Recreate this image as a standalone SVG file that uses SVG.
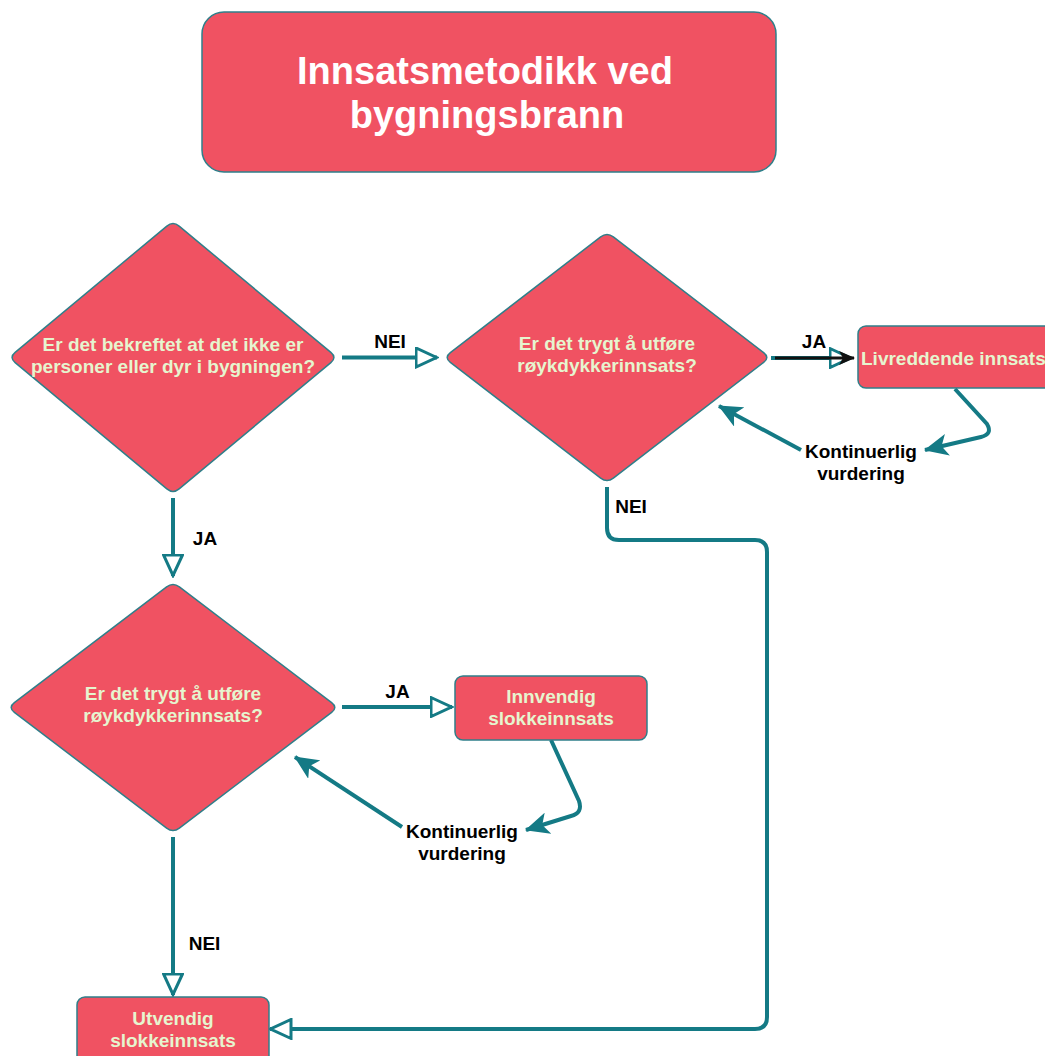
<svg xmlns="http://www.w3.org/2000/svg" width="1045" height="1056" viewBox="0 0 1045 1056">
<style>
.node{fill:#f05262;stroke:#2f7f8a;stroke-width:1.5}
.ntext{font-family:"Liberation Sans",Arial,sans-serif;font-weight:bold;font-size:19px;fill:#e6f5cf;text-anchor:middle}
.title{font-family:"Liberation Sans",Arial,sans-serif;font-weight:bold;font-size:38px;fill:#ffffff;text-anchor:middle}
.lbl{font-family:"Liberation Sans",Arial,sans-serif;font-weight:bold;font-size:19px;fill:#000000;text-anchor:middle}
.conn{fill:none;stroke:#147a85;stroke-width:4}
</style>
<defs>
<marker id="open" markerUnits="userSpaceOnUse" viewBox="0 0 24 22" refX="22.5" refY="11" markerWidth="24" markerHeight="22" orient="auto">
<path d="M1.5,1.5 L22,11 L1.5,20.5 Z" fill="#ffffff" stroke="#147a85" stroke-width="3" stroke-linejoin="miter"/>
</marker>
<marker id="classic" markerUnits="userSpaceOnUse" viewBox="0 0 24 22" refX="23" refY="11" markerWidth="24" markerHeight="22" orient="auto">
<path d="M0,0 L24,11 L0,22 L6,11 Z" fill="#147a85"/>
</marker>
<marker id="black" markerUnits="userSpaceOnUse" viewBox="0 0 16 14" refX="15" refY="7" markerWidth="16" markerHeight="14" orient="auto">
<path d="M0,0 L16,7 L0,14 L4,7 Z" fill="#111111"/>
</marker>
</defs>

<g id="connectors">
<path class="conn" d="M342,357.5 L437,357.5" marker-end="url(#open)"/>
<path class="conn" d="M771,358 L851,358" marker-end="url(#open)"/>
<path d="M775,358 L854,358" fill="none" stroke="#111111" stroke-width="3" marker-end="url(#black)"/>
<path class="conn" d="M955,389 L987,424 Q993,434 981,437 L925,450" marker-end="url(#classic)"/>
<path class="conn" d="M801,450 L719,406" marker-end="url(#classic)"/>
<path class="conn" d="M607,487 L607,528 Q607,540 619,540 L755,540 Q767,540 767,552 L767,1017 Q767,1029 755,1029 L270,1029" marker-end="url(#open)"/>
<path class="conn" d="M173,498 L173,576" marker-end="url(#open)"/>
<path class="conn" d="M342,707 L452,707" marker-end="url(#open)"/>
<path class="conn" d="M551,740 L579,801 Q583,813 571,816 L526,830" marker-end="url(#classic)"/>
<path class="conn" d="M402,827 L295,757" marker-end="url(#classic)"/>
<path class="conn" d="M173,837 L173,995" marker-end="url(#open)"/>
<text class="lbl" x="390" y="348">NEI</text>
<text class="lbl" x="814" y="348">JA</text>
<text class="lbl" x="861" y="458">Kontinuerlig</text>
<text class="lbl" x="861" y="480">vurdering</text>
<text class="lbl" x="631" y="513">NEI</text>
<text class="lbl" x="205" y="545">JA</text>
<text class="lbl" x="397.5" y="698">JA</text>
<text class="lbl" x="462" y="838">Kontinuerlig</text>
<text class="lbl" x="462" y="860">vurdering</text>
<text class="lbl" x="204.5" y="950">NEI</text>
</g>

<g id="title">
<rect class="node" x="202" y="12" width="574" height="160" rx="22"/>
<text class="title" x="485" y="84">Innsatsmetodikk ved</text>
<text class="title" x="487" y="128">bygningsbrann</text>
</g>

<g id="q1">
<path class="node" d="M166.85,226.1 Q173,221 179.15,226.1 L330.85,352.4 Q337,357.5 330.85,362.6 L179.15,488.9 Q173,494 166.85,488.9 L15.15,362.6 Q9,357.5 15.15,352.4 Z"/>
<text class="ntext" x="173" y="351">Er det bekreftet at det ikke er</text>
<text class="ntext" x="173" y="373">personer eller dyr i bygningen?</text>
</g>

<g id="q2">
<path class="node" d="M600.66,236.9 Q607,232 613.34,236.9 L763.66,352.6 Q770,357.5 763.66,362.4 L613.34,478.1 Q607,483 600.66,478.1 L450.34,362.4 Q444,357.5 450.34,352.6 Z"/>
<text class="ntext" x="607" y="350">Er det trygt å utføre</text>
<text class="ntext" x="607" y="372">røykdykkerinnsats?</text>
</g>

<g id="livreddende">
<rect class="node" x="858" y="326" width="210" height="62" rx="8"/>
<text class="ntext" x="861" y="365" style="text-anchor:start">Livreddende innsats</text>
</g>

<g id="q3">
<path class="node" d="M166.63,586.84 Q173,582 179.37,586.84 L331.63,702.66 Q338,707.5 331.63,712.34 L179.37,828.16 Q173,833 166.63,828.16 L14.37,712.34 Q8,707.5 14.37,702.66 Z"/>
<text class="ntext" x="173" y="700">Er det trygt å utføre</text>
<text class="ntext" x="173" y="722">røykdykkerinnsats?</text>
</g>

<g id="innvendig">
<rect class="node" x="455" y="676" width="192" height="64" rx="8"/>
<text class="ntext" x="551" y="703">Innvendig</text>
<text class="ntext" x="551" y="725">slokkeinnsats</text>
</g>

<g id="utvendig">
<rect class="node" x="77" y="997" width="192" height="72" rx="8"/>
<text class="ntext" x="173" y="1025">Utvendig</text>
<text class="ntext" x="173" y="1047">slokkeinnsats</text>
</g>
</svg>
